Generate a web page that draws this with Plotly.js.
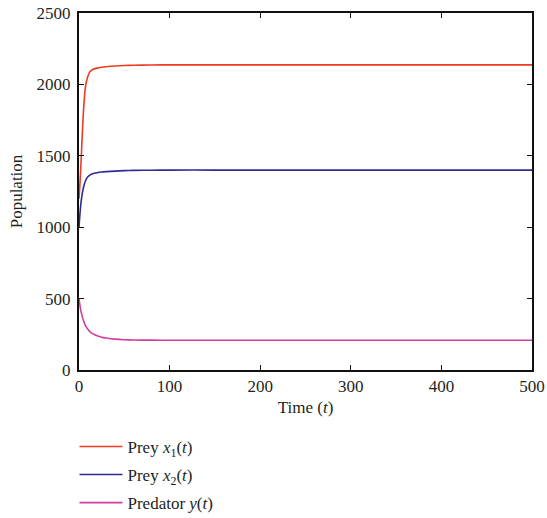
<!DOCTYPE html>
<html>
<head>
<meta charset="utf-8">
<script src="https://cdn.plot.ly/plotly-3.0.1.min.js"></script>
<style>html,body{margin:0;padding:0;background:#fff;}#chart{width:547px;height:518px;}</style>
</head>
<body>
<div id="chart"></div>
<script>
const time = [0, 1, 2, 3, 4, 5, 6, 7, 8, 10, 12, 15, 20, 25, 30, 40, 50, 60, 80, 100, 150, 200, 300, 400, 500];
const preyX1 = [1200, 1300, 1420, 1560, 1700, 1820, 1910, 1975, 2015, 2060, 2088, 2104, 2114, 2120, 2124, 2129, 2132, 2134, 2136, 2137, 2137, 2137, 2137, 2137, 2137];
const preyX2 = [1000, 1090, 1160, 1210, 1250, 1280, 1305, 1322, 1337, 1355, 1365, 1374, 1381, 1386, 1389, 1393, 1396, 1398, 1399, 1400, 1400, 1400, 1400, 1400, 1400];
const predatorY = [500, 455, 418, 390, 365, 345, 328, 314, 302, 283, 268, 255, 240, 230, 224, 216, 212, 210, 209, 208, 208, 208, 208, 208, 208];
const seriesNames = ['Prey <i>x</i><sub>1</sub>(<i>t</i>)', 'Prey <i>x</i><sub>2</sub>(<i>t</i>)', 'Predator <i>y</i>(<i>t</i>)'];
const xTicks = [0, 100, 200, 300, 400, 500];
const yTicks = [0, 500, 1000, 1500, 2000, 2500];

const colors = ['#ee3b24', '#2e2b92', '#cf3f9d'];
const seriesData = [preyX1, preyX2, predatorY];
const traces = seriesData.map((vals, i) => ({
  x: time, y: vals, type: 'scatter', mode: 'lines', name: seriesNames[i],
  legendgroup: 'g' + i,
  line: {color: colors[i], width: 1.6, shape: 'spline', smoothing: 0.6}
}));

const font = {family: 'Liberation Serif', size: 17, color: '#231f20'};
const axisCommon = {
  showgrid: false, zeroline: false, showline: true, linecolor: '#111', linewidth: 2,
  mirror: 'ticks', ticks: 'inside', ticklen: 5, tickwidth: 1.2, tickcolor: '#111',
  tickfont: font
};
const layout = {
  width: 547, height: 518,
  margin: {l: 79, r: 15, t: 13, b: 148, autoexpand: false},
  paper_bgcolor: '#fff', plot_bgcolor: '#fff',
  font: font,
  showlegend: true,
  xaxis: Object.assign({}, axisCommon, {
    range: [0, 500], tickvals: xTicks, ticktext: xTicks.map(String),
    ticklabelstandoff: 0,
    title: {text: 'Time (<i>t</i>)', font: font, standoff: 6}
  }),
  yaxis: Object.assign({}, axisCommon, {
    range: [0, 2500], tickvals: yTicks, ticktext: yTicks.map(String),
    ticklabelstandoff: 3,
    title: {text: 'Population', font: font, standoff: 10}
  }),
  legend: {
    x: -0.01, xanchor: 'left', y: -0.165, yanchor: 'top',
    orientation: 'v', font: font, bgcolor: 'rgba(0,0,0,0)',
    tracegroupgap: 3, itemwidth: 43
  }
};
Plotly.newPlot('chart', traces, layout, {displayModeBar: false, staticPlot: true});
</script>
</body>
</html>
